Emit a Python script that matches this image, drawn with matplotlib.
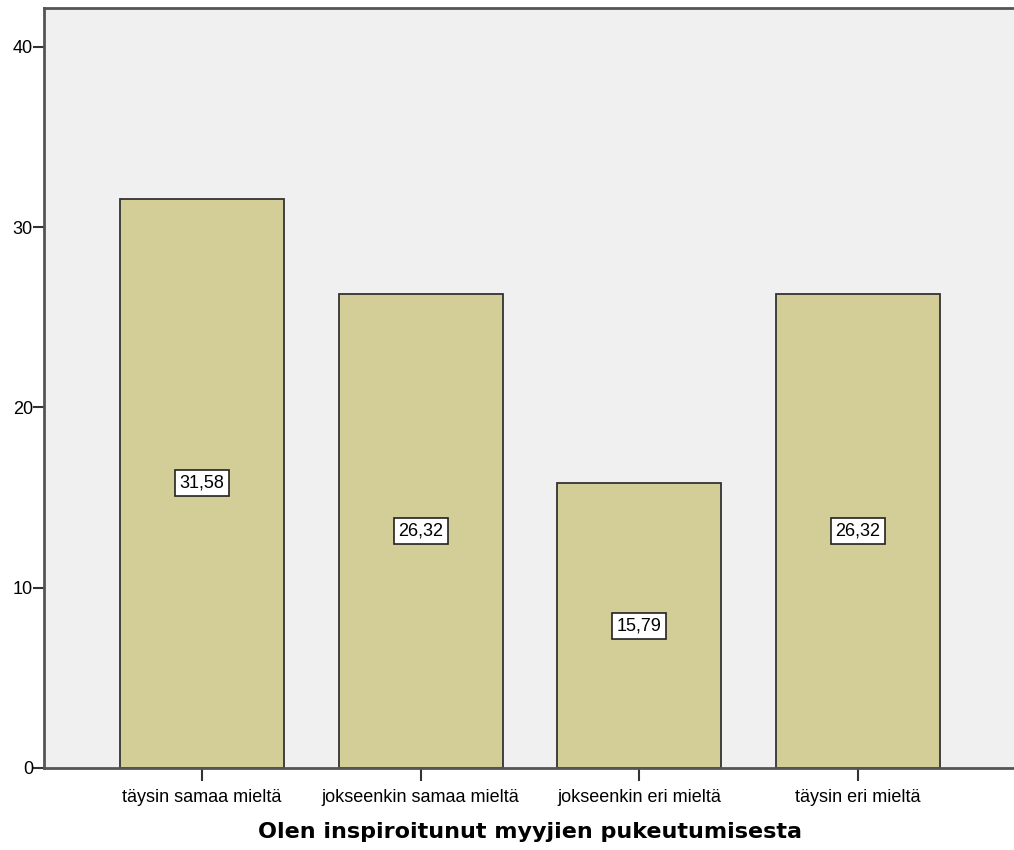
import matplotlib.pyplot as plt

categories = ["täysin samaa mieltä", "jokseenkin samaa mieltä", "jokseenkin eri mieltä", "täysin eri mieltä"]
percents = [31.58, 26.32, 15.79, 26.32]
y_ticks = [0, 10, 20, 30, 40]
x_title = "Olen inspiroitunut myyjien pukeutumisesta"

plt.rcParams["font.family"] = ["Liberation Sans", "DejaVu Sans"]


def main():
	fig = plt.figure(figsize=(10.14, 8.5), dpi=100)
	ax = fig.add_axes([44 / 1014, 1 - 768 / 850, 972 / 1014, 760 / 850])
	ax.set_facecolor("#f0f0f0")

	pos = list(range(len(categories)))
	ax.bar(pos, percents, width=0.75, color="#d3ce97", edgecolor="#333333", linewidth=1.3, zorder=2)

	# value boxes in the middle of each bar
	for x, v in zip(pos, percents):
		ax.text(x, v / 2, f"{v:.2f}".replace(".", ","), ha="center", va="center", fontsize=13,
			bbox=dict(boxstyle="square,pad=0.25", facecolor="white", edgecolor="#222222", linewidth=1.2), zorder=3)

	ax.set_xlim(-0.7225, 3.7225)
	ax.set_ylim(0, 42.16)
	ax.set_xticks(pos)
	ax.set_xticklabels(categories, fontsize=13)
	ax.set_yticks(y_ticks)
	ax.set_yticklabels([str(t) for t in y_ticks], fontsize=13)
	ax.tick_params(axis="x", length=9, width=1.5, color="#333333", pad=6)
	ax.tick_params(axis="y", length=8, width=1.5, color="#333333", pad=0)

	for side in ("left", "top", "bottom"):
		ax.spines[side].set_color("#555555")
		ax.spines[side].set_linewidth(2)
	ax.spines["right"].set_visible(False)

	ax.set_xlabel(x_title, fontsize=16, fontweight="bold", family="DejaVu Sans", labelpad=12)

	fig.savefig("out.png", dpi=100)


if __name__ == '__main__':
	main()
